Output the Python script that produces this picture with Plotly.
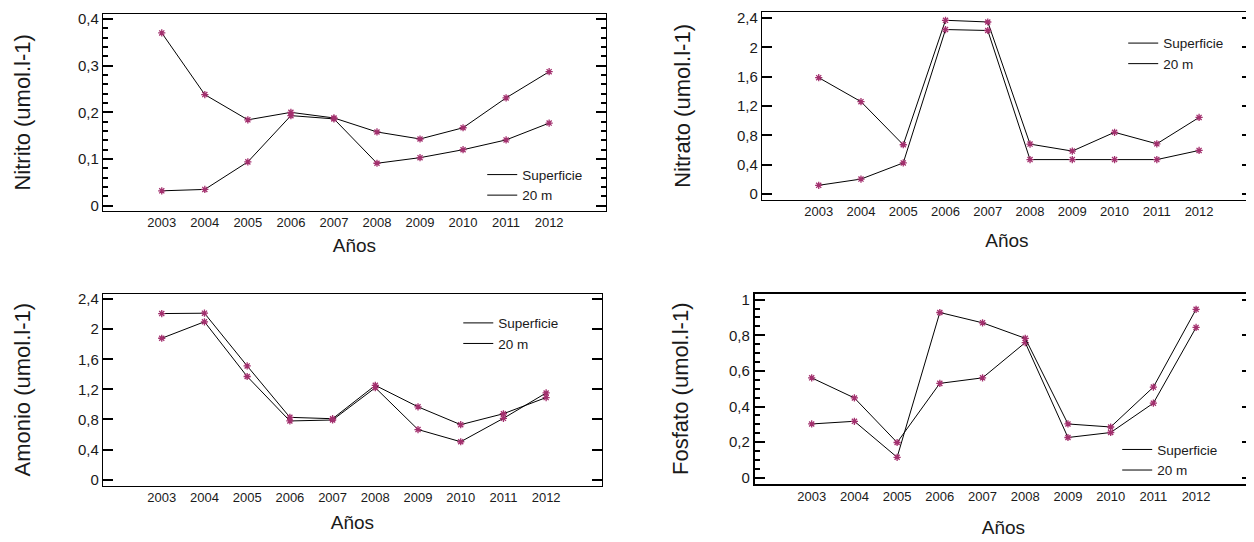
import plotly.graph_objects as go

years = [2003, 2004, 2005, 2006, 2007, 2008, 2009, 2010, 2011, 2012]
year_labels = [str(y) for y in years]
series_names = ["Superficie", "20 m"]

nitrito_sup = [0.370, 0.238, 0.184, 0.200, 0.188, 0.158, 0.143, 0.167, 0.231, 0.287]
nitrito_20m = [0.032, 0.035, 0.094, 0.193, 0.186, 0.091, 0.103, 0.120, 0.141, 0.177]

nitrato_sup = [1.587, 1.260, 0.673, 2.368, 2.345, 0.682, 0.587, 0.843, 0.686, 1.045]
nitrato_20m = [0.121, 0.206, 0.426, 2.242, 2.229, 0.471, 0.471, 0.471, 0.471, 0.596]

amonio_sup = [2.207, 2.212, 1.511, 0.828, 0.810, 1.253, 0.968, 0.731, 0.876, 1.091]
amonio_20m = [1.879, 2.098, 1.371, 0.780, 0.793, 1.222, 0.666, 0.504, 0.815, 1.152]

fosfato_sup = [0.561, 0.448, 0.198, 0.530, 0.561, 0.759, 0.226, 0.254, 0.419, 0.844]
fosfato_20m = [0.302, 0.317, 0.115, 0.928, 0.870, 0.783, 0.302, 0.285, 0.509, 0.946]

nitrito_ticks = [0, 0.1, 0.2, 0.3, 0.4]
nitrito_ticklabels = ["0", "0,1", "0,2", "0,3", "0,4"]
n24_ticks = [0, 0.4, 0.8, 1.2, 1.6, 2.0, 2.4]
n24_ticklabels = ["0", "0,4", "0,8", "1,2", "1,6", "2", "2,4"]
fosfato_ticks = [0, 0.2, 0.4, 0.6, 0.8, 1.0]
fosfato_ticklabels = ["0", "0,2", "0,4", "0,6", "0,8", "1"]

# The page body has an 8px default margin; the figure fills the rest of the window.
OFF = 8
W, H = 1254 - OFF, 542 - OFF
FONT = "Liberation Sans, Arial, sans-serif"
TXT = "#1a1a1a"
MARK = "#a3306e"


def px_x(a, b):
    return [(a - OFF) / W, min(1.0, (b - OFF) / W)]


def px_y(top, bottom):
    return [1 - (bottom - OFF) / H, 1 - (top - OFF) / H]


panels = [
    dict(sup=nitrito_sup, sub=nitrito_20m, title="Nitrito (umol.l-1)",
         xd=px_x(103, 607), yd=px_y(11, 210), xr=[2001.631, 2013.322], yr=[-0.0106, 0.4106],
         tv=nitrito_ticks, tt=nitrito_ticklabels, minor=0.02, lw=1,
         leg=(483, 174), xs=9, ys=41),
    dict(sup=nitrato_sup, sub=nitrato_20m, title="Nitrato (umol.l-1)",
         xd=px_x(763, 1262), yd=px_y(9, 199), xr=[2001.653, 2013.252], yr=[-0.077, 2.481],
         tv=n24_ticks, tt=n24_ticklabels, minor=None, lw=1,
         leg=(1125, 41), xs=15, ys=40),
    dict(sup=amonio_sup, sub=amonio_20m, title="Amonio (umol.l-1)",
         xd=px_x(103, 603), yd=px_y(294, 488), xr=[2001.621, 2013.309], yr=[-0.079, 2.470],
         tv=n24_ticks, tt=n24_ticklabels, minor=None, lw=1,
         leg=(459, 324), xs=11, ys=41),
    dict(sup=fosfato_sup, sub=fosfato_20m, title="Fosfato (umol.l-1)",
         xd=px_x(756, 1262), yd=px_y(294, 486), xr=[2001.668, 2013.309], yr=[-0.033, 1.033],
         tv=fosfato_ticks, tt=fosfato_ticklabels, minor=0.05, lw=2,
         leg=(1119, 452), xs=17, ys=34),
]

fig = go.Figure()
layout = dict(
    width=W, height=H, margin=dict(l=0, r=0, t=0, b=0),
    paper_bgcolor="white", plot_bgcolor="white",
    font=dict(family=FONT, color=TXT, size=13),
    showlegend=True,
)

extra_axis = 5
for i, p in enumerate(panels):
    n = i + 1
    xa = "x" if n == 1 else f"x{n}"
    ya = "y" if n == 1 else f"y{n}"
    lg = "legend" if n == 1 else f"legend{n}"
    for name, vals in zip(series_names, [p["sup"], p["sub"]]):
        fig.add_trace(go.Scatter(
            x=years, y=vals, mode="lines+markers", name=name,
            xaxis=xa, yaxis=ya, legend=lg, showlegend=False,
            line=dict(color="black", width=1),
            marker=dict(symbol="asterisk-open", size=6, color=MARK,
                        line=dict(color=MARK, width=1.3)),
        ))
    for name in series_names:
        fig.add_trace(go.Scatter(
            x=[None], y=[None], mode="lines", name=name,
            xaxis=xa, yaxis=ya, legend=lg, showlegend=True,
            line=dict(color="black", width=1),
        ))
    xkey = "xaxis" if n == 1 else f"xaxis{n}"
    ykey = "yaxis" if n == 1 else f"yaxis{n}"
    layout[xkey] = dict(
        domain=p["xd"], range=p["xr"], anchor=ya,
        tickmode="array", tickvals=years, ticktext=year_labels,
        ticks="", ticklen=3, showgrid=False, zeroline=False,
        showline=True, mirror=True, linecolor="black", linewidth=p["lw"],
        tickfont=dict(size=13, color=TXT),
        title=dict(text="Años", font=dict(size=19, color=TXT), standoff=p["xs"]),
    )
    tv, tt = p["tv"], p["tt"]
    alias = {f"{v:g}": t for v, t in zip(tv, tt)}
    layout[ykey] = dict(
        domain=p["yd"], range=p["yr"], anchor=xa,
        tickmode="linear", tick0=tv[0], dtick=round(tv[1] - tv[0], 6),
        labelalias=alias,
        ticks="inside", ticklen=10, tickwidth=2, tickcolor="black",
        showgrid=False, zeroline=False,
        showline=True, mirror="ticks", linecolor="black", linewidth=p["lw"],
        tickfont=dict(size=15, color=TXT),
        title=dict(text=p["title"], font=dict(size=22, color=TXT), standoff=p["ys"]),
    )
    if p["minor"]:
        # minor ticks drawn by an overlaid tick-only axis
        mk = f"yaxis{extra_axis}"
        my = f"y{extra_axis}"
        layout[mk] = dict(
            overlaying=ya, anchor=xa, side="left", range=p["yr"],
            tickmode="linear", tick0=0, dtick=p["minor"],
            ticks="inside", ticklen=5, tickwidth=1.6, tickcolor="black",
            showticklabels=False, showline=False, mirror="ticks",
            showgrid=False, zeroline=False,
        )
        fig.add_trace(go.Scatter(x=[None], y=[None], mode="lines", xaxis=xa, yaxis=my,
                                 showlegend=False, hoverinfo="skip"))
        extra_axis += 1
    lx, ly = p["leg"]
    layout[lg] = dict(
        x=(lx - OFF) / W, y=1 - (ly - 16 - OFF) / H, xanchor="left", yanchor="top",
        bgcolor="rgba(0,0,0,0)", borderwidth=0,
        font=dict(size=13.5, color=TXT), tracegroupgap=0,
        itemwidth=30,
    )

fig.update_layout(**layout)
fig.write_html("out.html")
